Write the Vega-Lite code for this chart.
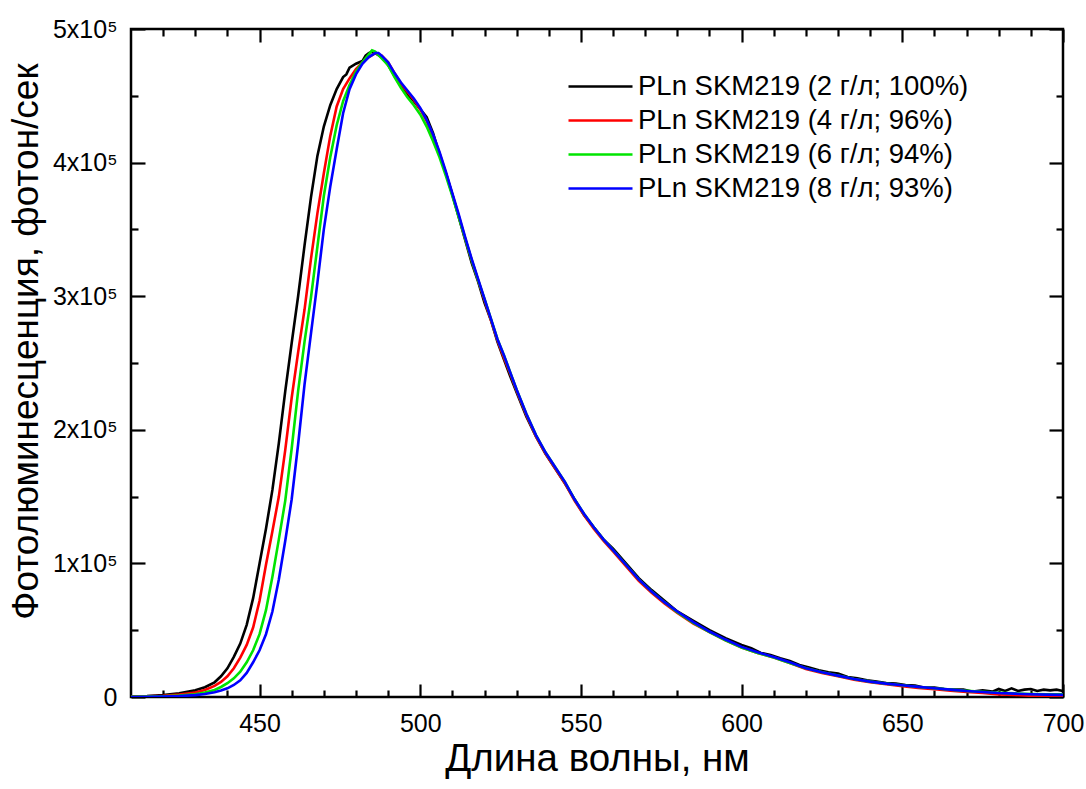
{
  "$schema": "https://vega.github.io/schema/vega-lite/v6.json",
  "width": 932,
  "height": 668,
  "autosize": {"type": "none"},
  "padding": {"left": 131, "top": 29, "right": 23, "bottom": 92},
  "background": "white",
  "config": {
    "view": {"stroke": "black", "strokeWidth": 2.5},
    "axis": {"domain": false, "grid": false, "tickColor": "black", "tickWidth": 2.2, "labelFont": "Liberation Sans", "labelColor": "black", "labelFontSize": 25, "titleFont": "Liberation Sans", "titleFontWeight": "normal", "titleColor": "black", "titleFontSize": 38, "labelOverlap": false, "labelFlush": false},
    "line": {"strokeWidth": 2.6}
  },
  "data": {"values": [
    {"c":2,"x":410,"y":300},{"c":2,"x":415,"y":700},{"c":2,"x":420,"y":1400},{"c":2,"x":425,"y":2700},{"c":2,"x":430,"y":5000},{"c":2,"x":433,"y":7300},{"c":2,"x":436,"y":11000},{"c":2,"x":438,"y":15500},{"c":2,"x":440,"y":21500},{"c":2,"x":442,"y":30000},{"c":2,"x":444,"y":40000},{"c":2,"x":446,"y":54000},{"c":2,"x":448,"y":74000},{"c":2,"x":450,"y":100000},{"c":2,"x":452,"y":126000},{"c":2,"x":454,"y":155000},{"c":2,"x":456,"y":190000},{"c":2,"x":458,"y":229000},{"c":2,"x":460,"y":265000},{"c":2,"x":462,"y":300000},{"c":2,"x":464,"y":338000},{"c":2,"x":466,"y":374000},{"c":2,"x":468,"y":405000},{"c":2,"x":470,"y":427000},{"c":2,"x":472,"y":443000},{"c":2,"x":474,"y":455000},{"c":2,"x":476,"y":464000},{"c":2,"x":477,"y":466000},{"c":2,"x":478,"y":471000},{"c":2,"x":480,"y":474000},{"c":2,"x":482,"y":476000},{"c":2,"x":483,"y":480000},{"c":2,"x":484,"y":482000},{"c":2,"x":485,"y":483000},{"c":2,"x":486,"y":482000},{"c":2,"x":488,"y":479000},{"c":2,"x":490,"y":473000},{"c":2,"x":492,"y":465000},{"c":2,"x":494,"y":457000},{"c":2,"x":496,"y":451000},{"c":2,"x":498,"y":446000},{"c":2,"x":500,"y":440000},{"c":2,"x":502,"y":434000},{"c":2,"x":504,"y":422000},{"c":2,"x":506,"y":406000},{"c":2,"x":508,"y":392000},{"c":2,"x":510,"y":376000},{"c":2,"x":512,"y":359000},{"c":2,"x":514,"y":342000},{"c":2,"x":516,"y":325000},{"c":2,"x":518,"y":311000},{"c":2,"x":520,"y":295000},{"c":2,"x":522,"y":282000},{"c":2,"x":524,"y":266000},{"c":2,"x":526,"y":253000},{"c":2,"x":528,"y":240000},{"c":2,"x":530,"y":228000},{"c":2,"x":533,"y":210000},{"c":2,"x":536,"y":195000},{"c":2,"x":539,"y":182000},{"c":2,"x":542,"y":171000},{"c":2,"x":545,"y":160000},{"c":2,"x":548,"y":148000},{"c":2,"x":551,"y":136000},{"c":2,"x":554,"y":127000},{"c":2,"x":557,"y":118000},{"c":2,"x":560,"y":111000},{"c":2,"x":564,"y":100000},{"c":2,"x":568,"y":89000},{"c":2,"x":572,"y":80000},{"c":2,"x":576,"y":72000},{"c":2,"x":580,"y":64000},{"c":2,"x":585,"y":57000},{"c":2,"x":590,"y":50000},{"c":2,"x":595,"y":44000},{"c":2,"x":600,"y":39000},{"c":2,"x":603,"y":36500},{"c":2,"x":606,"y":33000},{"c":2,"x":609,"y":31500},{"c":2,"x":612,"y":29000},{"c":2,"x":615,"y":27000},{"c":2,"x":618,"y":24000},{"c":2,"x":621,"y":22000},{"c":2,"x":624,"y":20000},{"c":2,"x":627,"y":18500},{"c":2,"x":630,"y":17500},{"c":2,"x":633,"y":15000},{"c":2,"x":636,"y":14000},{"c":2,"x":639,"y":12500},{"c":2,"x":642,"y":11500},{"c":2,"x":645,"y":10500},{"c":2,"x":648,"y":10000},{"c":2,"x":651,"y":9000},{"c":2,"x":654,"y":8500},{"c":2,"x":657,"y":7000},{"c":2,"x":660,"y":7000},{"c":2,"x":663,"y":6000},{"c":2,"x":666,"y":5500},{"c":2,"x":669,"y":5500},{"c":2,"x":672,"y":4000},{"c":2,"x":675,"y":5000},{"c":2,"x":678,"y":4000},{"c":2,"x":680,"y":6000},{"c":2,"x":682,"y":4500},{"c":2,"x":684,"y":6500},{"c":2,"x":686,"y":4500},{"c":2,"x":688,"y":5500},{"c":2,"x":690,"y":6000},{"c":2,"x":692,"y":4500},{"c":2,"x":694,"y":5500},{"c":2,"x":696,"y":5000},{"c":2,"x":698,"y":5500},{"c":2,"x":700,"y":4500},

    {"c":4,"x":410,"y":200},{"c":4,"x":415,"y":450},{"c":4,"x":420,"y":900},{"c":4,"x":425,"y":1800},{"c":4,"x":430,"y":3300},{"c":4,"x":433,"y":5300},{"c":4,"x":436,"y":8300},{"c":4,"x":438,"y":11300},{"c":4,"x":440,"y":15500},{"c":4,"x":442,"y":21500},{"c":4,"x":444,"y":29500},{"c":4,"x":446,"y":39000},{"c":4,"x":448,"y":52000},{"c":4,"x":450,"y":72000},{"c":4,"x":452,"y":99000},{"c":4,"x":454,"y":124000},{"c":4,"x":456,"y":150000},{"c":4,"x":458,"y":185000},{"c":4,"x":460,"y":224000},{"c":4,"x":462,"y":258000},{"c":4,"x":464,"y":290000},{"c":4,"x":466,"y":328000},{"c":4,"x":468,"y":362000},{"c":4,"x":470,"y":392000},{"c":4,"x":472,"y":420000},{"c":4,"x":474,"y":442000},{"c":4,"x":476,"y":455000},{"c":4,"x":478,"y":463000},{"c":4,"x":480,"y":470000},{"c":4,"x":482,"y":475000},{"c":4,"x":484,"y":479000},{"c":4,"x":486,"y":482000},{"c":4,"x":488,"y":480000},{"c":4,"x":490,"y":475000},{"c":4,"x":492,"y":467000},{"c":4,"x":494,"y":459000},{"c":4,"x":496,"y":453000},{"c":4,"x":498,"y":447000},{"c":4,"x":500,"y":440000},{"c":4,"x":502,"y":431000},{"c":4,"x":504,"y":420000},{"c":4,"x":506,"y":407000},{"c":4,"x":508,"y":392000},{"c":4,"x":510,"y":376000},{"c":4,"x":512,"y":360000},{"c":4,"x":514,"y":343000},{"c":4,"x":516,"y":327000},{"c":4,"x":518,"y":312000},{"c":4,"x":520,"y":297000},{"c":4,"x":522,"y":282000},{"c":4,"x":524,"y":267000},{"c":4,"x":526,"y":254000},{"c":4,"x":528,"y":242000},{"c":4,"x":530,"y":229000},{"c":4,"x":533,"y":211000},{"c":4,"x":536,"y":195000},{"c":4,"x":539,"y":182000},{"c":4,"x":542,"y":171000},{"c":4,"x":545,"y":160000},{"c":4,"x":548,"y":147000},{"c":4,"x":551,"y":136000},{"c":4,"x":554,"y":126000},{"c":4,"x":557,"y":117000},{"c":4,"x":560,"y":109000},{"c":4,"x":564,"y":98000},{"c":4,"x":568,"y":87000},{"c":4,"x":572,"y":78000},{"c":4,"x":576,"y":70000},{"c":4,"x":580,"y":63000},{"c":4,"x":585,"y":55000},{"c":4,"x":590,"y":48500},{"c":4,"x":595,"y":42500},{"c":4,"x":600,"y":37000},{"c":4,"x":605,"y":33000},{"c":4,"x":610,"y":29500},{"c":4,"x":615,"y":25500},{"c":4,"x":620,"y":21000},{"c":4,"x":625,"y":18000},{"c":4,"x":630,"y":15500},{"c":4,"x":635,"y":13000},{"c":4,"x":640,"y":11000},{"c":4,"x":645,"y":9500},{"c":4,"x":650,"y":8000},{"c":4,"x":655,"y":6800},{"c":4,"x":660,"y":5800},{"c":4,"x":665,"y":4800},{"c":4,"x":670,"y":3800},{"c":4,"x":675,"y":3000},{"c":4,"x":680,"y":2000},{"c":4,"x":685,"y":1500},{"c":4,"x":690,"y":900},{"c":4,"x":695,"y":1100},{"c":4,"x":700,"y":800},

    {"c":6,"x":410,"y":100},{"c":6,"x":415,"y":250},{"c":6,"x":420,"y":500},{"c":6,"x":425,"y":1000},{"c":6,"x":430,"y":2000},{"c":6,"x":433,"y":3300},{"c":6,"x":436,"y":5300},{"c":6,"x":438,"y":7500},{"c":6,"x":440,"y":10300},{"c":6,"x":442,"y":14000},{"c":6,"x":444,"y":19000},{"c":6,"x":446,"y":26000},{"c":6,"x":448,"y":35000},{"c":6,"x":450,"y":47000},{"c":6,"x":452,"y":65000},{"c":6,"x":454,"y":90000},{"c":6,"x":456,"y":118000},{"c":6,"x":458,"y":147000},{"c":6,"x":460,"y":186000},{"c":6,"x":462,"y":229000},{"c":6,"x":464,"y":266000},{"c":6,"x":466,"y":299000},{"c":6,"x":468,"y":337000},{"c":6,"x":470,"y":375000},{"c":6,"x":472,"y":404000},{"c":6,"x":474,"y":428000},{"c":6,"x":476,"y":446000},{"c":6,"x":478,"y":458000},{"c":6,"x":480,"y":468000},{"c":6,"x":482,"y":475000},{"c":6,"x":484,"y":481000},{"c":6,"x":485,"y":484000},{"c":6,"x":486,"y":483000},{"c":6,"x":488,"y":478000},{"c":6,"x":490,"y":473000},{"c":6,"x":492,"y":464000},{"c":6,"x":494,"y":456000},{"c":6,"x":496,"y":449000},{"c":6,"x":498,"y":443000},{"c":6,"x":500,"y":436000},{"c":6,"x":502,"y":427000},{"c":6,"x":504,"y":416000},{"c":6,"x":506,"y":404000},{"c":6,"x":508,"y":390000},{"c":6,"x":510,"y":375000},{"c":6,"x":512,"y":359000},{"c":6,"x":514,"y":343000},{"c":6,"x":516,"y":327000},{"c":6,"x":518,"y":312000},{"c":6,"x":520,"y":298000},{"c":6,"x":522,"y":283000},{"c":6,"x":524,"y":268000},{"c":6,"x":526,"y":256000},{"c":6,"x":528,"y":243000},{"c":6,"x":530,"y":230000},{"c":6,"x":533,"y":212000},{"c":6,"x":536,"y":196000},{"c":6,"x":539,"y":183000},{"c":6,"x":542,"y":172000},{"c":6,"x":545,"y":161000},{"c":6,"x":548,"y":148000},{"c":6,"x":551,"y":137000},{"c":6,"x":554,"y":127000},{"c":6,"x":557,"y":118000},{"c":6,"x":560,"y":110000},{"c":6,"x":564,"y":99000},{"c":6,"x":568,"y":88000},{"c":6,"x":572,"y":79000},{"c":6,"x":576,"y":71000},{"c":6,"x":580,"y":63500},{"c":6,"x":585,"y":55500},{"c":6,"x":590,"y":48500},{"c":6,"x":595,"y":42500},{"c":6,"x":600,"y":37000},{"c":6,"x":605,"y":33000},{"c":6,"x":610,"y":29500},{"c":6,"x":615,"y":25500},{"c":6,"x":620,"y":21500},{"c":6,"x":625,"y":18500},{"c":6,"x":630,"y":16000},{"c":6,"x":635,"y":13500},{"c":6,"x":640,"y":11500},{"c":6,"x":645,"y":10000},{"c":6,"x":650,"y":8800},{"c":6,"x":655,"y":7500},{"c":6,"x":660,"y":6500},{"c":6,"x":665,"y":5500},{"c":6,"x":670,"y":4600},{"c":6,"x":675,"y":3900},{"c":6,"x":680,"y":3200},{"c":6,"x":685,"y":2700},{"c":6,"x":690,"y":2300},{"c":6,"x":695,"y":2100},{"c":6,"x":700,"y":2000},

    {"c":8,"x":410,"y":50},{"c":8,"x":415,"y":150},{"c":8,"x":420,"y":350},{"c":8,"x":425,"y":700},{"c":8,"x":430,"y":1400},{"c":8,"x":433,"y":2300},{"c":8,"x":436,"y":3600},{"c":8,"x":438,"y":4800},{"c":8,"x":440,"y":6500},{"c":8,"x":442,"y":9000},{"c":8,"x":444,"y":12500},{"c":8,"x":446,"y":18000},{"c":8,"x":448,"y":26000},{"c":8,"x":450,"y":35000},{"c":8,"x":452,"y":47000},{"c":8,"x":454,"y":64000},{"c":8,"x":456,"y":88000},{"c":8,"x":458,"y":117000},{"c":8,"x":460,"y":148000},{"c":8,"x":462,"y":189000},{"c":8,"x":464,"y":234000},{"c":8,"x":466,"y":272000},{"c":8,"x":468,"y":310000},{"c":8,"x":470,"y":350000},{"c":8,"x":472,"y":382000},{"c":8,"x":474,"y":410000},{"c":8,"x":476,"y":437000},{"c":8,"x":478,"y":455000},{"c":8,"x":480,"y":466000},{"c":8,"x":482,"y":474000},{"c":8,"x":484,"y":479000},{"c":8,"x":486,"y":482000},{"c":8,"x":487,"y":482000},{"c":8,"x":488,"y":480000},{"c":8,"x":490,"y":475000},{"c":8,"x":492,"y":467000},{"c":8,"x":494,"y":460000},{"c":8,"x":496,"y":454000},{"c":8,"x":498,"y":448000},{"c":8,"x":500,"y":441000},{"c":8,"x":502,"y":432000},{"c":8,"x":504,"y":421000},{"c":8,"x":506,"y":408000},{"c":8,"x":508,"y":393000},{"c":8,"x":510,"y":377000},{"c":8,"x":512,"y":361000},{"c":8,"x":514,"y":344000},{"c":8,"x":516,"y":328000},{"c":8,"x":518,"y":313000},{"c":8,"x":520,"y":298000},{"c":8,"x":522,"y":283000},{"c":8,"x":524,"y":268000},{"c":8,"x":526,"y":256000},{"c":8,"x":528,"y":243000},{"c":8,"x":530,"y":230000},{"c":8,"x":533,"y":212000},{"c":8,"x":536,"y":196000},{"c":8,"x":539,"y":183000},{"c":8,"x":542,"y":172000},{"c":8,"x":545,"y":161000},{"c":8,"x":548,"y":148000},{"c":8,"x":551,"y":137000},{"c":8,"x":554,"y":127000},{"c":8,"x":557,"y":118000},{"c":8,"x":560,"y":110000},{"c":8,"x":564,"y":99000},{"c":8,"x":568,"y":88000},{"c":8,"x":572,"y":79000},{"c":8,"x":576,"y":71000},{"c":8,"x":580,"y":64000},{"c":8,"x":585,"y":56000},{"c":8,"x":590,"y":49000},{"c":8,"x":595,"y":43000},{"c":8,"x":600,"y":37500},{"c":8,"x":605,"y":33500},{"c":8,"x":610,"y":30000},{"c":8,"x":615,"y":26000},{"c":8,"x":620,"y":21500},{"c":8,"x":625,"y":18500},{"c":8,"x":630,"y":16000},{"c":8,"x":635,"y":13500},{"c":8,"x":640,"y":11500},{"c":8,"x":645,"y":10000},{"c":8,"x":650,"y":8800},{"c":8,"x":655,"y":7600},{"c":8,"x":660,"y":6500},{"c":8,"x":665,"y":5500},{"c":8,"x":670,"y":4500},{"c":8,"x":675,"y":3800},{"c":8,"x":680,"y":3000},{"c":8,"x":685,"y":2500},{"c":8,"x":690,"y":2100},{"c":8,"x":695,"y":1800},{"c":8,"x":700,"y":1600}
  ]},
  "layer": [
    {
      "transform": [{"filter": "datum.c == 2"}],
      "mark": {"type": "line", "clip": true},
      "encoding": {
        "x": {"field": "x", "type": "quantitative", "scale": {"domain": [410, 700], "nice": false, "zero": false},
              "axis": {"orient": "bottom", "values": [450, 500, 550, 600, 650, 700], "format": "d", "tickSize": -13, "labelPadding": 27, "labelFontSize": 25, "title": "Длина волны, нм", "titleFontSize": 38.5, "titlePadding": 4}},
        "y": {"field": "y", "type": "quantitative", "scale": {"domain": [0, 500000], "nice": false},
              "axis": {"orient": "left", "values": [0, 100000, 200000, 300000, 400000, 500000], "labelExpr": "datum.value == 0 ? '0' : (datum.value / 100000) + 'x10⁵'", "tickSize": -14, "labelPadding": 28, "labelFontSize": 25, "title": "Фотолюминесценция, фотон/сек", "titleFontSize": 37, "titlePadding": 7, "titleY": 312}},
        "color": {"field": "c", "type": "nominal",
                  "scale": {"domain": [2, 4, 6, 8], "range": ["#000000", "#ff0000", "#00e400", "#0000ff"]},
                  "legend": {"orient": "none", "legendX": 452, "legendY": 40, "title": null, "padding": 0,
                             "symbolType": "M-2,0H2", "symbolSize": 1024, "symbolStrokeWidth": 3,
                             "labelFont": "Liberation Sans", "labelFontSize": 27.5, "labelColor": "black", "labelOffset": 20,
                             "labelLimit": 500, "rowPadding": 3,
                             "labelExpr": "datum.value == 2 ? 'PLn SKM219 (2 г/л; 100%)' : datum.value == 4 ? 'PLn SKM219 (4 г/л; 96%)' : datum.value == 6 ? 'PLn SKM219 (6 г/л; 94%)' : 'PLn SKM219 (8 г/л; 93%)'"}}
      }
    },
    {
      "transform": [{"filter": "datum.c == 4"}],
      "mark": {"type": "line", "clip": true},
      "encoding": {
        "x": {"field": "x", "type": "quantitative", "scale": {"domain": [410, 700], "nice": false, "zero": false},
              "axis": {"orient": "bottom", "values": [420, 430, 440, 460, 470, 480, 490, 510, 520, 530, 540, 560, 570, 580, 590, 610, 620, 630, 640, 660, 670, 680, 690], "labels": false, "tickSize": -7, "title": null}},
        "y": {"field": "y", "type": "quantitative", "scale": {"domain": [0, 500000], "nice": false},
              "axis": {"orient": "left", "values": [50000, 150000, 250000, 350000, 450000], "labels": false, "tickSize": -7, "title": null}},
        "color": {"field": "c", "type": "nominal", "scale": {"domain": [2, 4, 6, 8], "range": ["#000000", "#ff0000", "#00e400", "#0000ff"]}}
      }
    },
    {
      "transform": [{"filter": "datum.c == 6"}],
      "mark": {"type": "line", "clip": true},
      "encoding": {
        "x": {"field": "x", "type": "quantitative", "scale": {"domain": [410, 700], "nice": false, "zero": false},
              "axis": {"orient": "top", "values": [450, 500, 550, 600, 650, 700], "labels": false, "tickSize": -13, "title": null}},
        "y": {"field": "y", "type": "quantitative", "scale": {"domain": [0, 500000], "nice": false},
              "axis": {"orient": "right", "values": [0, 100000, 200000, 300000, 400000, 500000], "labels": false, "tickSize": -14, "title": null}},
        "color": {"field": "c", "type": "nominal", "scale": {"domain": [2, 4, 6, 8], "range": ["#000000", "#ff0000", "#00e400", "#0000ff"]}}
      }
    },
    {
      "transform": [{"filter": "datum.c == 8"}],
      "mark": {"type": "line", "clip": true},
      "encoding": {
        "x": {"field": "x", "type": "quantitative", "scale": {"domain": [410, 700], "nice": false, "zero": false},
              "axis": {"orient": "top", "values": [420, 430, 440, 460, 470, 480, 490, 510, 520, 530, 540, 560, 570, 580, 590, 610, 620, 630, 640, 660, 670, 680, 690], "labels": false, "tickSize": -7, "title": null}},
        "y": {"field": "y", "type": "quantitative", "scale": {"domain": [0, 500000], "nice": false},
              "axis": {"orient": "right", "values": [50000, 150000, 250000, 350000, 450000], "labels": false, "tickSize": -7, "title": null}},
        "color": {"field": "c", "type": "nominal", "scale": {"domain": [2, 4, 6, 8], "range": ["#000000", "#ff0000", "#00e400", "#0000ff"]}}
      }
    }
  ],
  "resolve": {"axis": {"x": "independent", "y": "independent"}}
}
